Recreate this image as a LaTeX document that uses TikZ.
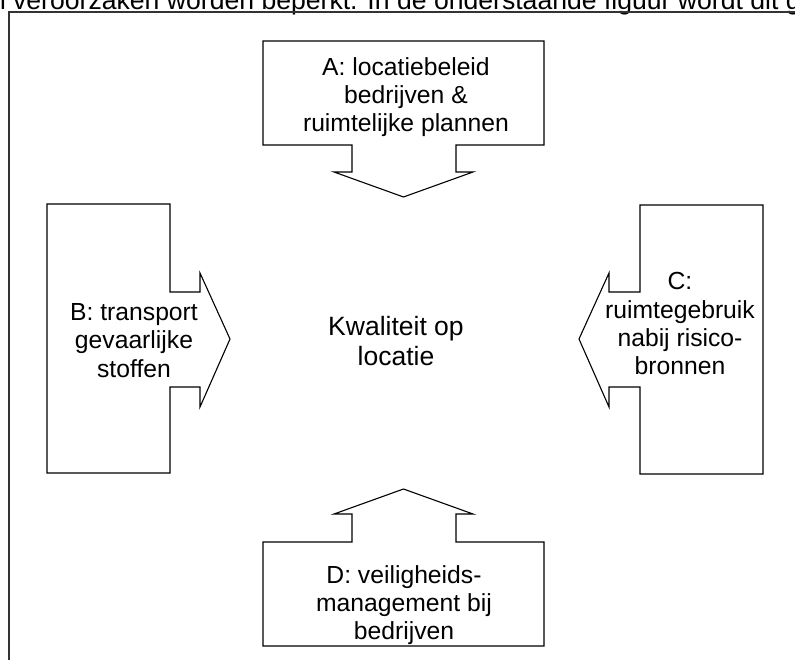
\documentclass[tikz,border=0pt]{standalone}
\usepackage{fontspec}
\setmainfont{Liberation Sans}
\begin{document}
\begin{tikzpicture}[x=1pt, y=-1pt,
  frameline/.style={draw=black!80, line width=2pt},
  blockarrow/.style={draw=black, line width=1.1pt, fill=white, line join=miter},
  label/.style={inner sep=0pt, align=center, anchor=north,
    font=\fontsize{24.7}{28.3}\selectfont},
  mainlabel/.style={inner sep=0pt, align=center, anchor=north,
    font=\fontsize{26.5}{30.5}\selectfont},
  bodytext/.style={inner sep=0pt, anchor=base west,
    font=\fontsize{26.6}{30}\selectfont}]
  \useasboundingbox (0,0) rectangle (795,660);
  \clip (0,0) rectangle (795,660);

  % running text above the figure
  \node[bodytext] (toptext) at (-9.2,9.5)
    {n veroorzaken worden beperkt. In de onderstaande figuur wordt dit g};

  % frame around the figure
  \draw[frameline] (9,670) -- (9,12) -- (805,12);

  % A: arrow pointing down
  \draw[blockarrow] (263,41) -- (544,41) -- (544,145) -- (456,145) -- (456,172)
    -- (473,172) -- (403.5,197) -- (334,172) -- (352,172) -- (352,145)
    -- (263,145) -- cycle;
  % D: arrow pointing up
  \draw[blockarrow] (263,646) -- (544,646) -- (544,542) -- (456,542) -- (456,514)
    -- (473,514) -- (403.5,489) -- (334,514) -- (352,514) -- (352,542)
    -- (263,542) -- cycle;
  % B: arrow pointing right
  \draw[blockarrow] (47,204) -- (170,204) -- (170,292) -- (200,292) -- (200,273)
    -- (230,339) -- (200,407) -- (200,387) -- (170,387) -- (170,473)
    -- (47,473) -- cycle;
  % C: arrow pointing left
  \draw[blockarrow] (763,205) -- (640,205) -- (640,292) -- (609,292) -- (609,273)
    -- (579,339) -- (609,407) -- (609,387) -- (640,387) -- (640,474)
    -- (763,474) -- cycle;

  % labels
  \node[label] (textA) at (406,57.3)
    {A: locatiebeleid\\bedrijven \&\\ruimtelijke plannen};
  \node[label] (textB) at (134,303.3)
    {B: transport\\gevaarlijke\\stoffen};
  \node[label] (textC) at (680,272.3)
    {C:\\ruimtegebruik\\nabij risico-\\bronnen};
  \node[label] (textD) at (404,565)
    {D: veiligheids-\\management bij\\bedrijven};
  \node[mainlabel] (center) at (396,316)
    {Kwaliteit op\\locatie};
\end{tikzpicture}
\end{document}
